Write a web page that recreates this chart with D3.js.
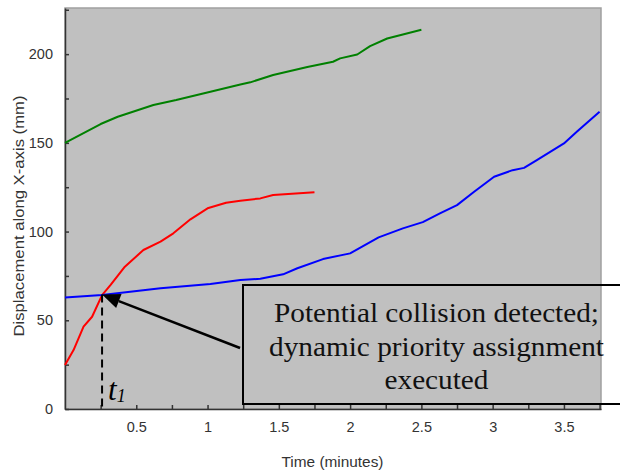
<!DOCTYPE html>
<html>
<head>
<meta charset="utf-8">
<script src="https://cdn.jsdelivr.net/npm/d3@7"></script>
<style>
	body { margin: 0; background: #fff; }
	svg { display: block; }
	.tick text { font-family: "Liberation Sans", Arial, sans-serif; font-size: 14.5px; fill: #333; }
</style>
</head>
<body>
<div id="chart"></div>
<script>
// series: time (minutes) / displacement (mm)
var greenTime = [0, 0.25, 0.37, 0.62, 0.78, 1.02, 1.23, 1.3, 1.46, 1.7, 1.88, 1.93, 2.05, 2.14, 2.26, 2.37, 2.5];
var greenDisp = [150, 160.6, 164.7, 171.3, 174.1, 178.8, 182.9, 184.1, 188.2, 192.8, 195.7, 197.6, 199.8, 204.5, 208.8, 211.1, 213.7];

var redTime = [0, 0.06, 0.13, 0.19, 0.26, 0.32, 0.42, 0.55, 0.67, 0.76, 0.88, 1.0, 1.13, 1.23, 1.37, 1.46, 1.75];
var redDisp = [24.8, 33.2, 46.4, 52, 64.2, 69.9, 80.2, 89.6, 94.3, 99, 106.9, 113.1, 116.2, 117.4, 118.7, 120.6, 122.1];

var blueTime = [0, 0.26, 0.67, 1.02, 1.23, 1.37, 1.53, 1.63, 1.81, 2.0, 2.2, 2.37, 2.51, 2.63, 2.75, 2.87, 3.01, 3.14, 3.22, 3.31, 3.5, 3.59, 3.75];
var blueDisp = [62.9, 64.2, 68, 70.4, 72.7, 73.4, 75.9, 79.3, 84.5, 87.7, 96.7, 101.8, 105.3, 110.2, 114.9, 122.4, 130.9, 134.6, 135.9, 140.3, 149.7, 156.2, 167.5];

var xTicks = [0.25, 0.5, 0.75, 1, 1.25, 1.5, 1.75, 2, 2.25, 2.5, 2.75, 3, 3.25, 3.5, 3.75];
var xLabels = [0.5, 1, 1.5, 2, 2.5, 3, 3.5];
var yTicks = [0, 25, 50, 75, 100, 125, 150, 175, 200, 225];
var yLabels = [0, 50, 100, 150, 200];

// collision point (t1) and the arrow's tail
var collision = {t: 0.26, d: 64.5};
var arrowTail = {t: 1.228, d: 34.4};
var noteLines = ["Potential collision detected;", "dynamic priority assignment", "executed"];

var w = 620, h = 472;
var margin = {top: 8, right: 19, bottom: 63, left: 65},
    width = w - margin.left - margin.right,
    height = h - margin.top - margin.bottom;

var svg = d3.select("#chart").append("svg").attr("width", w).attr("height", h);

var x = d3.scaleLinear().domain([0, 3.76]).range([margin.left, margin.left + width]),
    y = d3.scaleLinear().domain([0, 226]).range([margin.top + height, margin.top]);

// plot area
svg.append("rect")
	.attr("x", margin.left).attr("y", margin.top)
	.attr("width", width).attr("height", height)
	.attr("fill", "#c0c0c0")
	.attr("stroke", "#a0a0a0")
	.attr("stroke-width", 1.5);

var fmt = function(d){ return xLabels.indexOf(d) >= 0 ? d3.format("~g")(d) : ""; };
var gx = svg.append("g")
	.attr("transform", "translate(0," + (margin.top + height) + ")")
	.call(d3.axisBottom(x).tickValues(xTicks).tickSize(-4).tickPadding(13).tickSizeOuter(0).tickFormat(fmt));
var gy = svg.append("g")
	.attr("transform", "translate(" + margin.left + ",0)")
	.call(d3.axisLeft(y).tickValues(yTicks).tickSize(-4).tickPadding(12).tickSizeOuter(0)
		.tickFormat(function(d){ return yLabels.indexOf(d) >= 0 ? d : ""; }));
gx.selectAll("line, path").attr("stroke", "#333").attr("stroke-width", 1.5);
gy.selectAll("line, path").attr("stroke", "#333").attr("stroke-width", 1.5);

// titles
svg.append("text")
	.attr("transform", "translate(24,216) rotate(-90)")
	.attr("text-anchor", "middle")
	.attr("font-family", "Liberation Sans, Arial, sans-serif")
	.attr("font-size", 15).attr("fill", "#333")
	.attr("textLength", 241).attr("lengthAdjust", "spacingAndGlyphs")
	.text("Displacement along X-axis (mm)");
svg.append("text")
	.attr("x", 332.5).attr("y", 467)
	.attr("text-anchor", "middle")
	.attr("font-family", "Liberation Sans, Arial, sans-serif")
	.attr("font-size", 15).attr("fill", "#333")
	.attr("textLength", 102).attr("lengthAdjust", "spacingAndGlyphs")
	.text("Time (minutes)");

var line = d3.line()
	.x(function(d){ return x(d[0]); })
	.y(function(d){ return y(d[1]); });

var series = [
	{t: greenTime, d: greenDisp, color: "#008000"},
	{t: redTime, d: redDisp, color: "#ff0000"},
	{t: blueTime, d: blueDisp, color: "#0000ff"}
];
series.forEach(function(s){
	svg.append("path")
		.datum(d3.zip(s.t, s.d))
		.attr("fill", "none")
		.attr("stroke", s.color)
		.attr("stroke-width", 2)
		.attr("stroke-linejoin", "round")
		.attr("d", line);
});

// dashed drop line to t1
svg.append("line")
	.attr("x1", x(collision.t)).attr("x2", x(collision.t))
	.attr("y1", y(collision.d)).attr("y2", y(0))
	.attr("stroke", "#000").attr("stroke-width", 2)
	.attr("stroke-dasharray", "8,5");

var t1 = svg.append("text")
	.attr("x", x(collision.t) + 6).attr("y", 400)
	.attr("font-family", "Liberation Serif, Times New Roman, serif")
	.attr("font-style", "italic").attr("font-size", 31).attr("fill", "#000");
t1.append("tspan").text("t");
t1.append("tspan").attr("font-size", 18).attr("dy", 2).text("1");

// arrow
var tipX = x(collision.t), tipY = y(collision.d),
    tailX = x(arrowTail.t), tailY = y(arrowTail.d);
var ang = Math.atan2(tailY - tipY, tailX - tipX);
var headLen = 18, headHalf = 7.5;
var bx = tipX + headLen * Math.cos(ang), by = tipY + headLen * Math.sin(ang);
svg.append("line")
	.attr("x1", bx).attr("y1", by)
	.attr("x2", tailX).attr("y2", tailY)
	.attr("stroke", "#000").attr("stroke-width", 2.5);
svg.append("path")
	.attr("d", "M" + tipX + "," + tipY +
		"L" + (bx - headHalf * Math.sin(ang)) + "," + (by + headHalf * Math.cos(ang)) +
		"L" + (bx + headHalf * Math.sin(ang)) + "," + (by - headHalf * Math.cos(ang)) + "Z")
	.attr("fill", "#000");

// note box
svg.append("rect")
	.attr("x", 243).attr("y", 285)
	.attr("width", 392).attr("height", 119)
	.attr("fill", "none")
	.attr("stroke", "#000").attr("stroke-width", 2);

var noteLens = [325, 335, 104];
noteLines.forEach(function(s, i){
	svg.append("text")
		.attr("x", 436.5).attr("y", 322 + i * 33.5)
		.attr("text-anchor", "middle")
		.attr("font-family", "Liberation Serif, Times New Roman, serif")
		.attr("font-size", 27).attr("fill", "#111")
		.attr("textLength", noteLens[i]).attr("lengthAdjust", "spacingAndGlyphs")
		.text(s);
});
</script>
</body>
</html>
